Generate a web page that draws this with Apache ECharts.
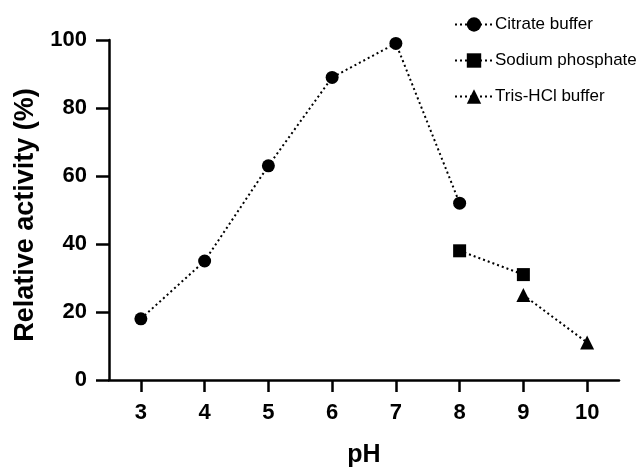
<!DOCTYPE html>
<html>
<head>
<meta charset="utf-8">
<script src="https://cdn.jsdelivr.net/npm/echarts@6/dist/echarts.min.js"></script>
<style>
  html, body { margin: 0; padding: 0; background: #fff; }
  #chart { width: 640px; height: 469px; }
</style>
</head>
<body>
<div id="chart"></div>
<script>
const phTicks = [3, 4, 5, 6, 7, 8, 9, 10];

const citratePh = [3, 4, 5, 6, 7, 8];
const citrateActivity = [18, 35, 63, 89, 99, 52];

const phosphatePh = [8, 9];
const phosphateActivity = [38, 31];

const trisPh = [9, 10];
const trisActivity = [25, 11];

const seriesNames = ['Citrate buffer', 'Sodium phosphate', 'Tris-HCl buffer'];

const font = '"Liberation Sans", Arial, sans-serif';

const toPairs = (xs, ys) => xs.map((x, i) => [x, ys[i]]);

const makeSeries = (name, symbol, size, xs, ys) => ({
  name,
  type: 'line',
  data: toPairs(xs, ys),
  symbol,
  symbolSize: size,
  showAllSymbol: true,
  itemStyle: { color: '#000' },
  lineStyle: { color: '#000', width: 2, type: [2, 3] },
  animation: false,
});

const chart = echarts.init(document.getElementById('chart'));

chart.setOption({
  textStyle: { fontFamily: font },
  grid: { left: 109, right: 21, top: 40, bottom: 89, outerBoundsMode: 'none' },
  legend: {
    data: seriesNames,
    orient: 'vertical',
    left: 449,
    top: 11,
    itemWidth: 38,
    itemHeight: 18,
    itemGap: 19,
    textStyle: { fontFamily: font, fontSize: 17, color: '#000', padding: [0, 0, 0, -3] },
  },
  xAxis: {
    type: 'value',
    min: 2.5,
    max: 10.5,
    name: 'pH',
    nameLocation: 'middle',
    nameGap: 63,
    nameTextStyle: { fontSize: 25, fontWeight: 'bold', color: '#000' },
    axisLine: { lineStyle: { color: '#000', width: 2.5 } },
    axisTick: {
      customValues: phTicks,
      length: 12,
      lineStyle: { color: '#000', width: 2.5 },
    },
    axisLabel: {
      customValues: phTicks,
      margin: 22,
      fontSize: 22,
      fontWeight: 'bold',
      color: '#000',
    },
    splitLine: { show: false },
  },
  yAxis: {
    type: 'value',
    min: 0,
    max: 100,
    interval: 20,
    name: 'Relative activity (%)',
    nameLocation: 'middle',
    nameGap: 67,
    nameTextStyle: { fontSize: 27, fontWeight: 'bold', color: '#000', padding: [0, 10, 0, 0] },
    axisLine: { show: true, lineStyle: { color: '#000', width: 2.5 } },
    axisTick: { show: true, length: 13, lineStyle: { color: '#000', width: 2.5 } },
    axisLabel: { margin: 22, fontSize: 22, fontWeight: 'bold', color: '#000' },
    splitLine: { show: false },
  },
  series: [
    makeSeries(seriesNames[0], 'circle', 13, citratePh, citrateActivity),
    makeSeries(seriesNames[1], 'rect', 13, phosphatePh, phosphateActivity),
    makeSeries(seriesNames[2], 'triangle', 14, trisPh, trisActivity),
  ],
});
</script>
</body>
</html>
